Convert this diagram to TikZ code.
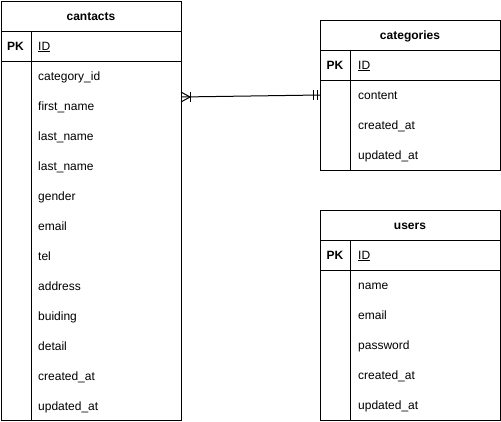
\documentclass[tikz,border=0pt]{standalone}
\usepackage{fontspec}
\setmainfont{Liberation Sans}
\tikzset{
	tablebox/.style = {draw, line width=1pt},
	tableline/.style = {draw, line width=1pt},
	titletext/.style = {anchor=base, yshift=-4pt, font=\fontsize{12}{14}\selectfont\bfseries, inner sep=0pt},
	keytext/.style = {anchor=base, yshift=-4pt, font=\fontsize{12}{14}\selectfont\bfseries, inner sep=0pt},
	fieldtext/.style = {anchor=base west, yshift=-4pt, font=\fontsize{12}{14}\selectfont, inner sep=0pt},
	relline/.style = {draw, line width=1pt}
}

\begin{document}
\begin{tikzpicture}[x=1pt, y=-1pt]
	\useasboundingbox (0,0) rectangle (501,421);
	% -------------- cantacts --------------
	\draw[tablebox] (1,1) rectangle (181,420);
	\draw[tableline] (1,31) -- (181,31);
	\draw[tableline] (1,61) -- (181,61);
	\draw[tableline] (31,31) -- (31,420);
	\node[titletext] (cantactsTitle) at (91,16) {cantacts};
	\node[keytext] (cantactsPK) at (15.5,46) {PK};
	\node[fieldtext] (cantactsID) at (38,46) {\underline{ID}};
	\node[fieldtext] (cantactsA) at (38,76)  {category\_id};
	\node[fieldtext] (cantactsB) at (38,106) {first\_name};
	\node[fieldtext] (cantactsC) at (38,136) {last\_name};
	\node[fieldtext] (cantactsD) at (38,166) {last\_name};
	\node[fieldtext] (cantactsE) at (38,196) {gender};
	\node[fieldtext] (cantactsF) at (38,226) {email};
	\node[fieldtext] (cantactsG) at (38,256) {tel};
	\node[fieldtext] (cantactsH) at (38,286) {address};
	\node[fieldtext] (cantactsI) at (38,316) {buiding};
	\node[fieldtext] (cantactsJ) at (38,346) {detail};
	\node[fieldtext] (cantactsK) at (38,376) {created\_at};
	\node[fieldtext] (cantactsL) at (38,406) {updated\_at};
	% -------------- categories --------------
	\draw[tablebox] (320,20) rectangle (500,170);
	\draw[tableline] (320,50) -- (500,50);
	\draw[tableline] (320,80) -- (500,80);
	\draw[tableline] (350,50) -- (350,170);
	\node[titletext] (categoriesTitle) at (410,35) {categories};
	\node[keytext] (categoriesPK) at (335,65) {PK};
	\node[fieldtext] (categoriesID) at (358,65) {\underline{ID}};
	\node[fieldtext] (categoriesA) at (358,95)  {content};
	\node[fieldtext] (categoriesB) at (358,125) {created\_at};
	\node[fieldtext] (categoriesC) at (358,155) {updated\_at};
	% -------------- users --------------
	\draw[tablebox] (320,210) rectangle (500,420);
	\draw[tableline] (320,240) -- (500,240);
	\draw[tableline] (320,270) -- (500,270);
	\draw[tableline] (350,240) -- (350,420);
	\node[titletext] (usersTitle) at (410,225) {users};
	\node[keytext] (usersPK) at (335,255) {PK};
	\node[fieldtext] (usersID) at (358,255) {\underline{ID}};
	\node[fieldtext] (usersA) at (358,285) {name};
	\node[fieldtext] (usersB) at (358,315) {email};
	\node[fieldtext] (usersC) at (358,345) {password};
	\node[fieldtext] (usersD) at (358,375) {created\_at};
	\node[fieldtext] (usersE) at (358,405) {updated\_at};
	% -------------- relation --------------
	\coordinate (manyEnd) at (181,97);
	\coordinate (oneEnd) at (320,95);
	\draw[relline] (oneEnd) -- (manyEnd);
	\draw[relline] ([yshift=5pt]manyEnd) -- ++(9,5) -- ++(-9,5);
	\draw[relline] ([xshift=9pt,yshift=5pt]manyEnd) -- ++(0,10);
	\draw[relline] ([xshift=-7pt,yshift=5pt]oneEnd) -- ++(0,10);
	\draw[relline] ([xshift=-3pt,yshift=5pt]oneEnd) -- ++(0,10);
\end{tikzpicture}
\end{document}
